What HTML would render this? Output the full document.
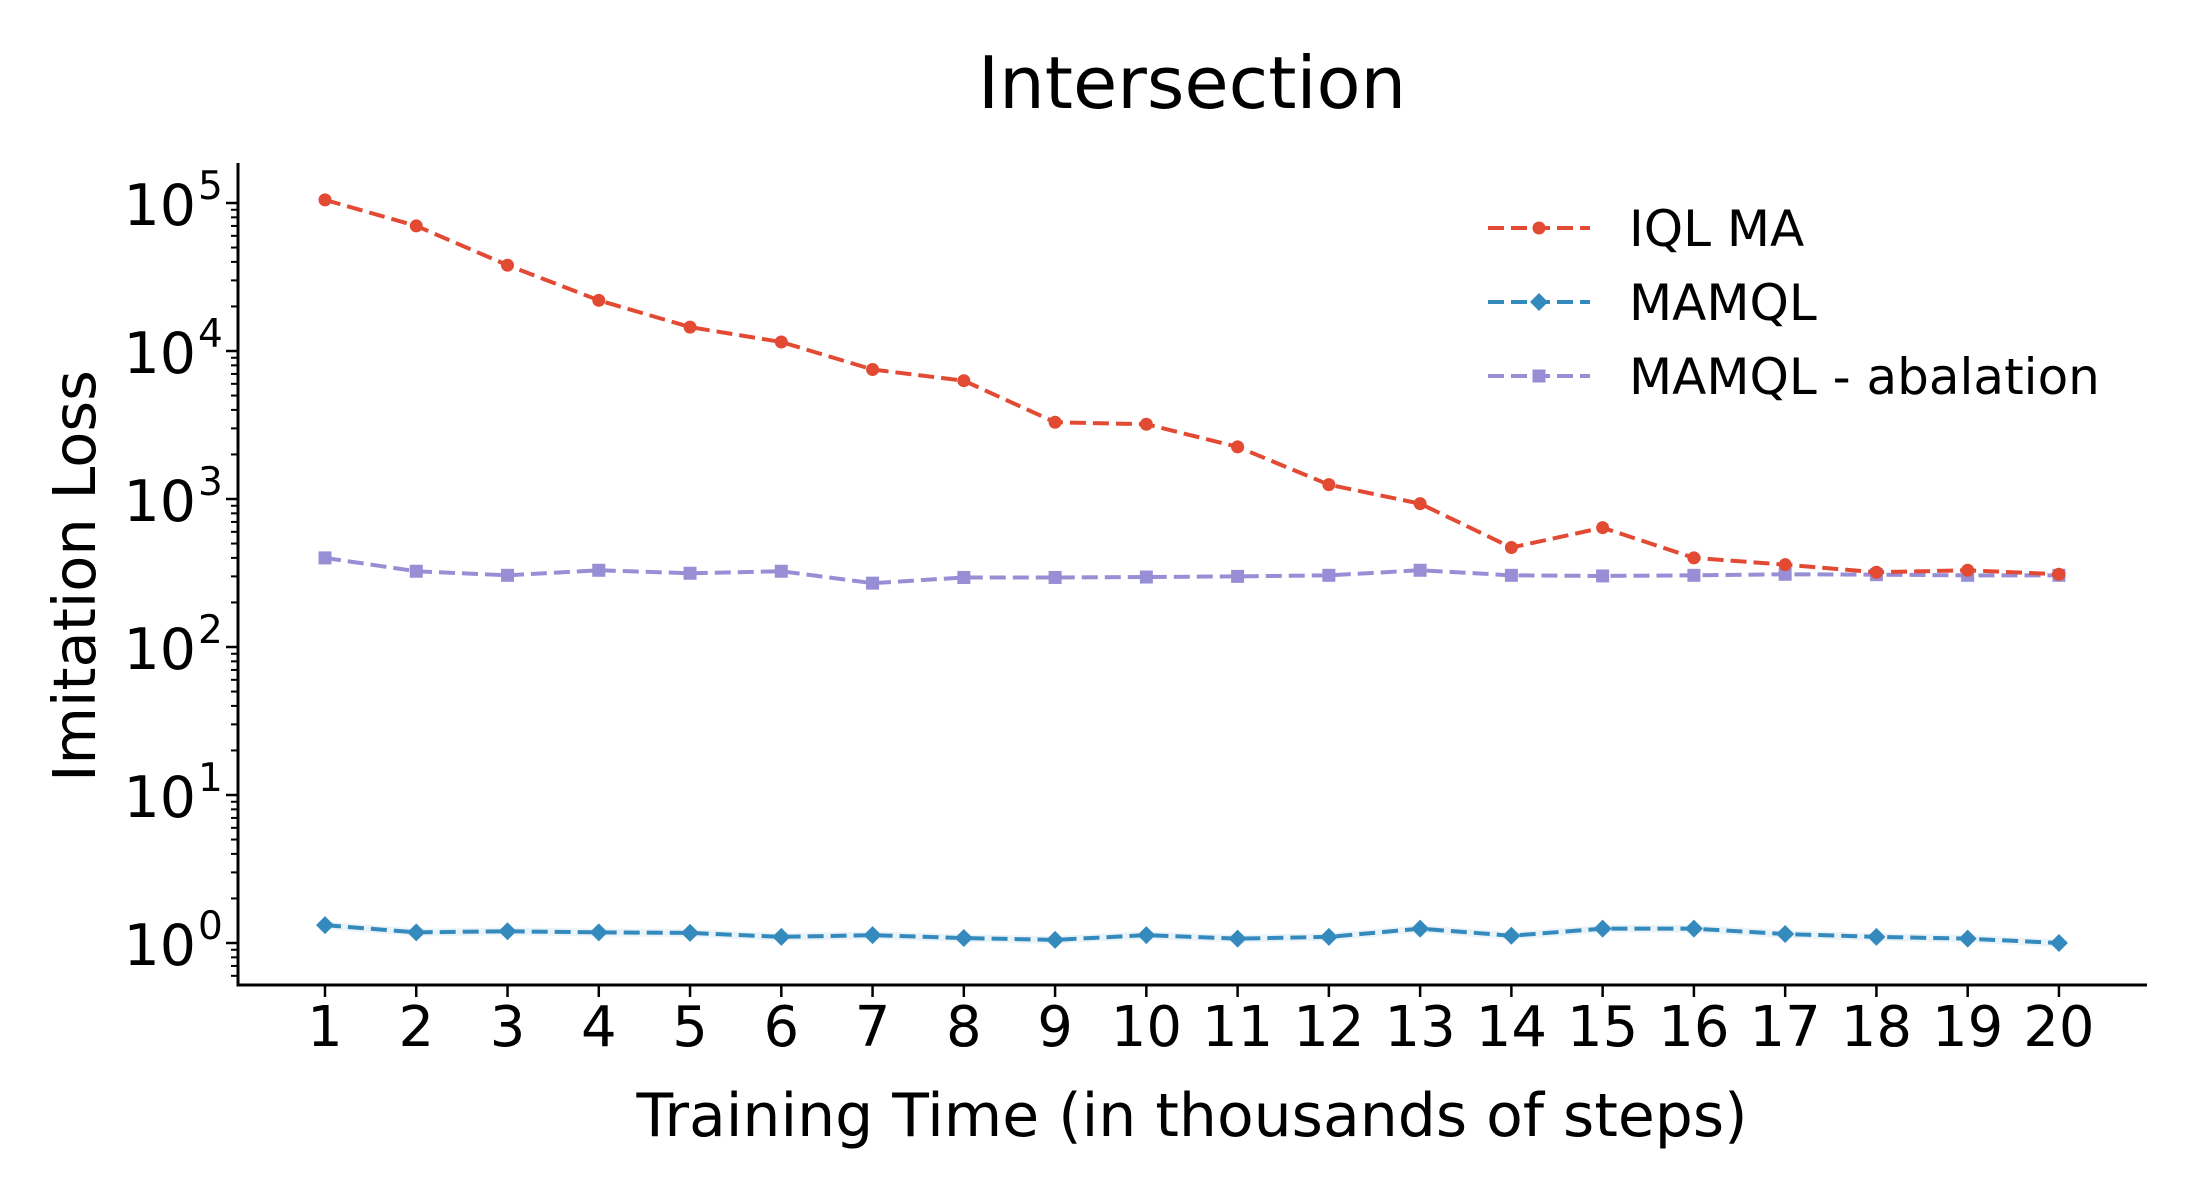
<!DOCTYPE html>
<html><head><meta charset="utf-8"><style>
html,body{margin:0;padding:0;background:#fff;}
svg{display:block;font-family:"DejaVu Sans","Liberation Sans",sans-serif;}
</style></head><body>
<svg id="chart" width="2200" height="1200" viewBox="0 0 2200 1200" xmlns="http://www.w3.org/2000/svg">
<text x="1192" y="108" font-size="72" text-anchor="middle">Intersection</text>
<g id="plot"></g>
<text x="1192" y="1136" font-size="60" text-anchor="middle">Training Time (in thousands of steps)</text>
<text transform="translate(95,576) rotate(-90)" font-size="59" text-anchor="middle">Imitation Loss</text>
</svg>
<script>
const steps = [1,2,3,4,5,6,7,8,9,10,11,12,13,14,15,16,17,18,19,20];
const iqlMA = [105000,70000,38000,22000,14500,11500,7500,6300,3300,3200,2250,1250,930,470,640,400,360,320,330,310];
const mamql = [1.32,1.18,1.2,1.18,1.17,1.1,1.13,1.08,1.05,1.13,1.07,1.1,1.25,1.12,1.25,1.25,1.15,1.1,1.07,1.0];
const ablation = [400,325,305,330,315,325,270,295,295,297,300,305,330,305,302,305,310,308,305,305];
const yTickExps = [0,1,2,3,4,5];
const legendLabels = ["IQL MA","MAMQL","MAMQL - abalation"];

const NS="http://www.w3.org/2000/svg";
const plot=document.getElementById('plot');
const L=238,R=2147,T=163,B=985;
function xs(v){return 325+(v-1)*91.26;}
function ys(v){return 943-148*Math.log10(v);}
function mk(tag,attrs,parent){const e=document.createElementNS(NS,tag);for(const k in attrs)e.setAttribute(k,attrs[k]);(parent||plot).appendChild(e);return e;}

const ya=mk('line',{x1:L,y1:T,x2:L,y2:B+1.5,stroke:'#000','stroke-width':3});


const xa=mk('line',{x1:L-1.5,y1:B,x2:R,y2:B,stroke:'#000','stroke-width':3});



for(const e of yTickExps){
  const y=ys(Math.pow(10,e));
  const t=mk('line',{x1:L-12,y1:y,x2:L,y2:y,stroke:'#000','stroke-width':2.5});
  
  
  const tx=mk('text',{x:196,y:y+22,'font-size':57,'text-anchor':'end'});
  
  
  tx.textContent='10';
  const sp=mk('text',{x:198,y:y-4,'font-size':39,'text-anchor':'start'});
  
  
  sp.textContent=String(e);
}
for(let e=-1;e<=5;e++){
  for(let m=2;m<=9;m++){
    const v=m*Math.pow(10,e);const y=ys(v);
    if(y<T||y>B)continue;
    const t=mk('line',{x1:L-7,y1:y,x2:L,y2:y,stroke:'#000','stroke-width':2});
    
    
  }
}
for(const s of steps){
  const x=xs(s);
  const t=mk('line',{x1:x,y1:B,x2:x,y2:B+12,stroke:'#000','stroke-width':2.5});
  
  
  const tx=mk('text',{x:x,y:1046,'font-size':56,'text-anchor':'middle'});
  
  
  tx.textContent=String(s);
}

function pts(arr){return arr.map((v,i)=>xs(steps[i])+','+ys(v)).join(' ');}
const band=mk('polygon',{points:mamql.map((v,i)=>xs(steps[i])+','+ys(v*1.06)).join(' ')+' '+mamql.map((v,i)=>xs(steps[i])+','+ys(v*0.94)).reverse().join(' '),fill:'#348abd',opacity:0.1});



const series=[
  {d:ablation,c:'#988ed5',m:'sq',n:'ablation'},
  {d:mamql,c:'#348abd',m:'dia',n:'mamql'},
  {d:iqlMA,c:'#e24a33',m:'circ',n:'iql-ma'}
];
function marker(type,x,y,c,name){
  let e;
  if(type==='circ')e=mk('circle',{cx:x,cy:y,r:6.5,fill:c});
  else if(type==='sq')e=mk('rect',{x:x-6.5,y:y-6.5,width:13,height:13,fill:c});
  else e=mk('polygon',{points:`${x},${y-9} ${x+9},${y} ${x},${y+9} ${x-9},${y}`,fill:c});
  
  
}
for(const s of series){
  const l=mk('polyline',{points:pts(s.d),fill:'none',stroke:s.c,'stroke-width':4,'stroke-dasharray':'16,7'});
  
  
  s.d.forEach((v,i)=>marker(s.m,xs(steps[i]),ys(v),s.c,s.n+'-point'));
}
const legSer=[series[2],series[1],series[0]];
const legY=[228,302,376];
legSer.forEach((s,i)=>{
  const y=legY[i];
  const l=mk('line',{x1:1488,y1:y,x2:1590,y2:y,stroke:s.c,'stroke-width':4,'stroke-dasharray':'16,7'});
  
  
  marker(s.m,1539,y,s.c,'legend-marker');
  const t=mk('text',{x:1629,y:y+18,'font-size':50});
  
  
  t.textContent=legendLabels[i];
});
</script>
</body></html>
